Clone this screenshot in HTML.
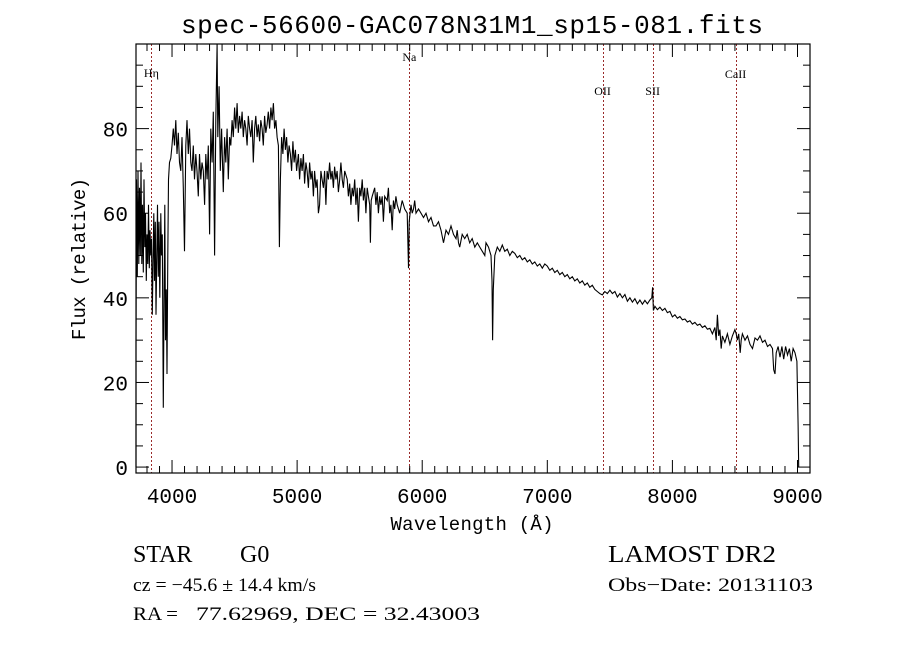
<!DOCTYPE html>
<html><head><meta charset="utf-8"><style>
body{margin:0;background:#fff}
svg{display:block}
text{fill:#000}
</style></head><body>
<svg id="chart" width="900" height="649" xmlns="http://www.w3.org/2000/svg">
<rect width="900" height="649" fill="#fff"/>
<text x="472" y="33" text-anchor="middle" font-family="Liberation Mono, monospace" font-size="26" textLength="582">spec-56600-GAC078N31M1_sp15-081.fits</text>
<g id="lines"></g>
<g id="axes"></g>
<path id="spec" fill="none" stroke="#000" stroke-width="1.1"/>
<rect x="136" y="44" width="674" height="429" fill="none" stroke="#000" stroke-width="1.2"/>
<text x="472" y="530" text-anchor="middle" font-family="Liberation Mono, monospace" font-size="19" textLength="163">Wavelength (Å)</text>
<text transform="translate(85,259) rotate(-90)" text-anchor="middle" font-family="Liberation Mono, monospace" font-size="19" textLength="162">Flux (relative)</text>
<text x="133" y="562" font-family="Liberation Serif, serif" font-size="24">STAR</text>
<text x="240" y="562" font-family="Liberation Serif, serif" font-size="24">G0</text>
<text x="608" y="562" font-family="Liberation Serif, serif" font-size="24" textLength="168" lengthAdjust="spacingAndGlyphs">LAMOST DR2</text>
<text x="133" y="591" font-family="Liberation Serif, serif" font-size="19" textLength="183" lengthAdjust="spacingAndGlyphs">cz = −45.6 ± 14.4 km/s</text>
<text x="608" y="591" font-family="Liberation Serif, serif" font-size="19" textLength="205" lengthAdjust="spacingAndGlyphs">Obs−Date: 20131103</text>
<text x="133" y="620" font-family="Liberation Serif, serif" font-size="19" textLength="45" lengthAdjust="spacingAndGlyphs">RA =</text>
<text x="196" y="620" font-family="Liberation Serif, serif" font-size="19" textLength="284" lengthAdjust="spacingAndGlyphs">77.62969, DEC =  32.43003</text>
</svg>
<script>
const wl=[3712,3716,3722,3728,3734,3740,3746,3752,3758,3764,3770,3776,3782,3788,3794,3800,3806,3812,3818,3824,3830,3836,3842,3848,3854,3860,3866,3872,3878,3884,3890,3896,3902,3910,3916,3922,3930,3936,3942,3948,3954,3960,3966,3972,3980,3990,4000,
4010,4020,4030,4040,4050,4060,4070,4080,4090,4100,4110,4120,4130,4140,4150,4160,4170,4180,4190,4200,4210,4220,4230,4240,4250,4260,4270,4280,4290,4300,4310,4320,4330,4340,4350,4360,4366,4376,4386,4396,4410,4420,4430,4440,4450,4460,4470,4480,4490,4500,4510,4520,4530,4540,4550,4560,4570,4580,4590,4600,4610,4620,4630,4640,4650,4660,4670,4680,4690,4700,4710,4720,4730,4740,4750,4760,4770,4780,4790,4800,4810,4820,4830,4840,4850,4858,4866,4876,4886,4896,4906,4916,4926,4936,4946,4956,4966,4976,4986,4996,5010,5020,5030,5040,5050,5060,5070,5080,5090,5100,5110,5120,5130,5140,5150,5160,5170,5180,5190,5200,5210,5220,5230,5240,5250,5260,5270,5280,5290,5300,5310,5320,5330,5340,5350,5360,5370,5380,5400,5410,5420,5430,5440,5450,5460,5470,5480,5490,5500,5510,5520,5530,5540,5550,5560,5570,5580,5586,5592,5600,5620,5630,5640,5650,5660,5670,5680,5690,5700,5720,5730,5740,5750,5760,5770,5780,5790,5800,5820,5840,5860,5880,5890,5896,5910,5920,5930,5940,5950,5970,5990,6010,6030,6050,6070,6090,6110,6130,6150,6170,6190,6210,6230,6250,6270,6280,6290,6300,6320,6340,6360,6380,6400,6420,6440,6460,6480,6500,6510,6530,6550,6558,6563,6568,
6580,6600,6620,6640,6660,6680,6700,6720,6740,6760,6780,6800,6820,6840,6860,6880,6900,6920,6940,6960,6980,7000,7020,7040,7060,7080,7100,7120,7140,7160,7180,7200,7220,7240,7260,7280,7300,7320,7340,7360,7380,7400,7420,7440,7460,7480,7500,7520,7540,7560,7580,7600,7620,7640,7660,7680,7700,7720,7740,7760,7780,7800,7820,7835,7842,7848,7860,7880,7900,7920,7940,7960,7980,8000,8020,8040,8060,8080,8100,8120,8140,8160,8180,8200,8220,8240,8260,8280,8300,8320,8340,8350,8360,8370,8380,8390,8400,8420,8440,8460,8480,8500,8510,8520,8530,8542,8550,8560,8580,8600,8620,8640,8660,8680,8700,8720,8740,8760,8780,8800,8810,8820,8830,8845,8860,8875,8890,8905,8920,8935,8950,8965,8980,8995,9005,9010];
const flux=[29,68,45,70,48,66,50,72,48,62,46,68,52,60,44,55,48,62,47,56,50,54,36,48,60,44,58,36,50,62,45,58,40,60,50,55,14,38,62,30,42,22,50,68,72,73,76,
80,76,82,74,79,72,70,78,66,51,76,82,74,80,72,70,76,68,74,70,64,74,68,72,70,62,74,68,76,55,80,72,84,50,82,100,78,90,70,80,65,78,72,80,68,78,76,82,78,85,80,86,79,83,80,84,78,82,80,76,83,80,78,82,72,80,83,78,81,77,82,80,76,83,79,81,84,80,85,82,86,80,82,78,76,52,68,78,74,80,75,78,72,76,74,70,77,72,75,70,74,68,73,70,74,67,72,70,66,72,68,70,64,70,66,68,60,62,70,68,66,70,62,70,68,72,68,70,66,71,68,70,65,68,72,68,66,70,68,64,67,62,66,64,68,62,66,58,66,64,68,63,66,60,66,64,62,53,63,64,66,62,65,60,64,62,64,58,64,63,66,60,62,56,63,61,64,62,60,63,61,60,47,58,62,60,61,63,60,61,60,59,60,58,59,57,57,58,56,53,56,55,57,55,54,56,53,52,55,54,55,53,54,52,53,52,51,50,53,52,50,44,30,42,
50,52,51,52.5,51,51.5,50,51,50.5,49.5,50,49,49.5,48.5,49,48,48.5,47.5,48,47,48,47.5,46.5,47,46,46.5,45.5,46,45,45.5,44.5,45,44,44.5,43.5,44,43,43.5,42.5,43,42,41.5,41,40.7,41.5,41,41.8,41,41.5,40.2,41,40,40.8,39.2,40,39,39.8,38.6,39.5,38.5,39.4,38.6,39.5,40,42.5,37,38,37.2,37.8,37,37.5,36.5,36.8,35.5,36,35.2,35.6,34.8,35,34.3,34.6,33.8,34.2,33.5,33.8,33,33.4,32.6,32.8,31.5,33,30,36,31,32.5,28,31,29.5,31.5,29,31,32.5,31.5,30,31.5,27,30,31.5,30,31,29,28,30.5,30,31,29.5,30,28.5,29,28,23,22,27,28.5,26,28.5,25.5,28.5,26.5,28,25,28,27,25,10,0];
const xTicks=[4000,5000,6000,7000,8000,9000];
const yTicks=[0,20,40,60,80];
const lineNames=["Hη","Na","OII","SII","CaII"];
const lineWl=[3835,5897,7442,7842,8505];
const lineLabelY=[77,61,95,95,78];

const X0=136,X1=810,Y0=473,Y1=44,WMIN=3712,WMAX=9100,FMIN=-1.4,FMAX=100;
const sx=w=>X0+(w-WMIN)/(WMAX-WMIN)*(X1-X0);
const sy=f=>Y0-(f-FMIN)/(FMAX-FMIN)*(Y0-Y1);
const NS="http://www.w3.org/2000/svg";
function mk(tag,attrs,parent){const e=document.createElementNS(NS,tag);for(const k in attrs)e.setAttribute(k,attrs[k]);parent.appendChild(e);return e;}
const axes=document.getElementById('axes');
for(let w=3800;w<=9100;w+=100){
  const major=w%1000===0;const x=sx(w);const len=major?13:7;
  const t1=mk('line',{x1:x,x2:x,y1:Y0,y2:Y0-len,stroke:'#000','stroke-width':1},axes);
  
  
  const t2=mk('line',{x1:x,x2:x,y1:Y1,y2:Y1+len,stroke:'#000','stroke-width':1},axes);
  
  
}
xTicks.forEach(v=>{
  const t=mk('text',{x:sx(v),y:Y0+30,'text-anchor':'middle','font-family':'Liberation Mono, monospace','font-size':21},axes);
  t.textContent=v;
  
  
});
for(let f=0;f<=100;f+=5){
  const major=f%20===0;const y=sy(f);const len=major?13:7;
  const t1=mk('line',{x1:X0,x2:X0+len,y1:y,y2:y,stroke:'#000','stroke-width':1},axes);
  
  
  const t2=mk('line',{x1:X1,x2:X1-len,y1:y,y2:y,stroke:'#000','stroke-width':1},axes);
  
  
}
yTicks.forEach(v=>{
  const t=mk('text',{x:X0-8,y:sy(v)+8,'text-anchor':'end','font-family':'Liberation Mono, monospace','font-size':21},axes);
  t.textContent=v;
  
  
});
const lg=document.getElementById('lines');
lineWl.forEach((w,i)=>{
  const x=Math.round(sx(w))+0.5;
  const l=mk('line',{x1:x,x2:x,y1:Y1,y2:Y0,stroke:'#9a2a2a','stroke-width':1,'stroke-dasharray':'2,2'},lg);
  
  
  const t=mk('text',{x:sx(w),y:lineLabelY[i],'text-anchor':'middle','font-family':'Liberation Serif, serif','font-size':12},lg);
  t.textContent=lineNames[i];
  
  
});
let d='';
wl.forEach((w,i)=>{d+=(i?'L':'M')+sx(w).toFixed(1)+' '+sy(flux[i]).toFixed(1);});
d='M'+sx(wl[0]).toFixed(1)+' '+sy(0).toFixed(1)+'L'+d.slice(1);
document.getElementById('spec').setAttribute('d',d);
</script>
</body></html>
